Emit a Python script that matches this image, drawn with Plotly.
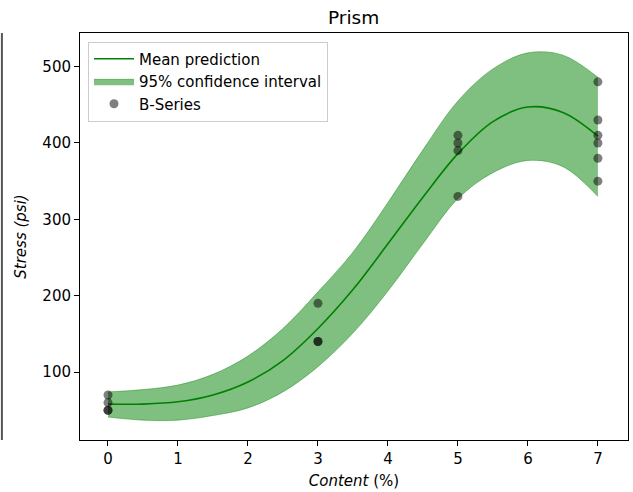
import plotly.graph_objects as go

# Measured B-Series points: content (%) vs stress (psi)
content = [0, 0, 0, 0, 3, 3, 3, 5, 5, 5, 5, 7, 7, 7, 7, 7, 7]
stress = [70, 60, 50, 50, 190, 140, 140, 410, 400, 390, 330,
          480, 430, 410, 400, 380, 350]

# Model prediction along the content axis
grid_x = [0, 0.5, 1, 1.5, 2, 2.5, 3, 3.5, 4, 4.5, 5, 5.5, 6, 6.5, 7]
mean_pred = [58, 58, 61, 70, 87, 115, 157, 208, 268, 329, 386, 428, 447, 440, 409]
ci_upper = [74, 77, 83, 97, 121, 157, 205, 257, 322, 391, 455, 497, 518, 515, 486]
ci_lower = [41, 37, 37, 43, 53, 74, 107, 151, 206, 268, 327, 361, 377, 369, 330]

x_ticks = [0, 1, 2, 3, 4, 5, 6, 7]
y_ticks = [100, 200, 300, 400, 500]

FONT = "DejaVu Sans"
BAND = "rgba(0,128,0,0.5)"
FS = 15

fig = go.Figure()

fig.add_trace(go.Scatter(
    x=grid_x, y=ci_lower, mode="lines", line=dict(width=0.8, color=BAND, shape="spline"),
    showlegend=False, hoverinfo="skip"))
fig.add_trace(go.Scatter(
    x=grid_x, y=ci_upper, mode="lines", line=dict(width=0.8, color=BAND, shape="spline"),
    fill="tonexty", fillcolor=BAND, name="95% confidence interval", legendrank=2))
fig.add_trace(go.Scatter(
    x=grid_x, y=mean_pred, mode="lines", line=dict(width=1.6, color="green", shape="spline"),
    name="Mean prediction", legendrank=1))
fig.add_trace(go.Scatter(
    x=content, y=stress, mode="markers",
    marker=dict(size=9, color="rgba(0,0,0,0.5)", line=dict(width=0)),
    name="B-Series", legendrank=3))

axis_common = dict(
    showline=True, mirror=True, linecolor="black", linewidth=1,
    ticks="outside", ticklen=5, tickcolor="black", tickwidth=1,
    showgrid=False, zeroline=False,
    tickfont=dict(family=FONT, size=FS, color="black"),
)

fig.update_layout(
    width=633, height=492,
    margin=dict(l=80, r=5, t=33, b=52),
    paper_bgcolor="white", plot_bgcolor="white",
    font=dict(family=FONT, size=FS, color="black"),
    title=dict(text="Prism", x=0.5587, xanchor="center", y=0.965, yanchor="middle",
               font=dict(family=FONT, size=18.5, color="black")),
    xaxis=dict(range=[-0.4, 7.43], tickvals=x_ticks,
               title=dict(text="<i>Content</i> (%)", standoff=8,
                          font=dict(family=FONT, size=FS)),
               **axis_common),
    yaxis=dict(range=[11, 544], tickvals=y_ticks,
               title=dict(text="<i>Stress (psi)</i>", standoff=12,
                          font=dict(family=FONT, size=FS)),
               **axis_common),
    legend=dict(x=0.0146, y=0.979, xanchor="left", yanchor="top",
                traceorder="normal",
                bgcolor="rgba(255,255,255,0.8)", bordercolor="#cccccc", borderwidth=1,
                font=dict(family=FONT, size=FS, color="black"), itemwidth=40),
    shapes=[dict(type="line", xref="paper", yref="paper",
                 x0=-0.1425, x1=-0.1425, y0=0, y1=1,
                 line=dict(color="#555555", width=2))],
)

fig.write_html("out.html")
